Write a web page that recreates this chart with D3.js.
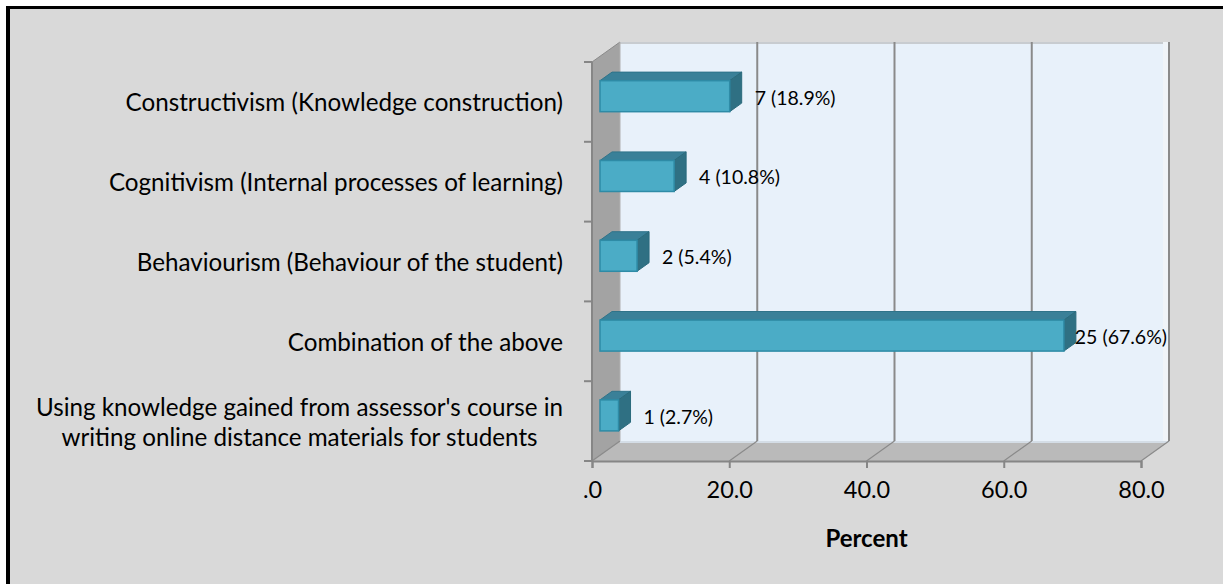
<!DOCTYPE html>
<html>
<head>
<meta charset="utf-8">
<script src="https://cdn.jsdelivr.net/npm/d3@7"></script>
<style>
body{margin:0;background:#fff;}
svg{display:block;}
text{font-family:Lato,"Open Sans",sans-serif;fill:#000;}
</style>
</head>
<body>
<svg></svg>
<script>
var categories = [
  "Constructivism (Knowledge construction)",
  "Cognitivism (Internal processes of learning)",
  "Behaviourism (Behaviour of the student)",
  "Combination of the above",
  "Using knowledge gained from assessor's course in|writing online distance materials for students"
];
var counts = [7, 4, 2, 25, 1];
var percents = [18.9, 10.8, 5.4, 67.6, 2.7];
var xTicks = [0, 20, 40, 60, 80];

var width = 1223, height = 584;
var svg = d3.select("svg").attr("width", width).attr("height", height);

// frame: black left/top edge, gray panel
svg.append("rect").attr("x", 6).attr("y", 6).attr("width", width).attr("height", height).attr("fill", "#000");
svg.append("rect").attr("x", 10).attr("y", 9).attr("width", width).attr("height", height).attr("fill", "#d9d9d9");

// 3d depth of the plot box
var dx = 28, dy = -20;
var x = d3.scaleLinear().domain([0, 80]).range([592, 1141]);
var y = d3.scaleBand().domain(categories).range([62, 461]);
var top0 = y.range()[0], bot0 = y.range()[1];

// left wall
svg.append("polygon")
  .attr("points", [[592, top0], [592 + dx, top0 + dy], [592 + dx, bot0 + dy], [592, bot0]].join(" "))
  .attr("fill", "#a3a3a3");
// back wall
svg.append("rect")
  .attr("x", x(0) + dx).attr("y", top0 + dy)
  .attr("width", x(80) - x(0)).attr("height", bot0 - top0)
  .attr("fill", "#e8f1fa");
svg.append("line").attr("x1", x(0) + dx).attr("x2", x(80) + dx)
  .attr("y1", top0 + dy + 1).attr("y2", top0 + dy + 1).attr("stroke", "#c8ccd0").attr("stroke-width", 2);
svg.append("rect").attr("x", x(80) + dx - 6).attr("y", top0 + dy).attr("width", 5).attr("height", bot0 - top0)
  .attr("fill", "#f0f4f8");
// floor
svg.append("polygon")
  .attr("points", [[x(0), bot0], [x(80), bot0], [x(80) + dx, bot0 + dy], [x(0) + dx, bot0 + dy]].join(" "))
  .attr("fill", "#bababa");
svg.append("line").attr("x1", x(0) + dx).attr("x2", x(80) + dx)
  .attr("y1", bot0 + dy + 1).attr("y2", bot0 + dy + 1).attr("stroke", "#d4dde6").attr("stroke-width", 2);

// gridlines on back wall and floor
var grid = svg.append("g").attr("stroke", "#8a8a8a").attr("stroke-width", 2);
xTicks.forEach(function(t) {
  if (t > 0) {
    grid.append("line").attr("x1", x(t) + dx).attr("x2", x(t) + dx)
      .attr("y1", top0 + dy).attr("y2", bot0 + dy);
  }
  grid.append("line").attr("x1", x(t)).attr("y1", bot0)
    .attr("x2", x(t) + dx).attr("y2", bot0 + dy).attr("stroke-width", 1.2);
});
grid.append("line").attr("x1", 592).attr("y1", top0).attr("x2", 592 + dx).attr("y2", top0 + dy).attr("stroke-width", 1);
grid.append("line").attr("x1", 592 + dx).attr("y1", top0 + dy).attr("x2", 592 + dx).attr("y2", bot0 + dy).attr("stroke-width", 1).attr("stroke", "#b0b0b0");

// x axis (front floor edge)
var xAxis = svg.append("g").attr("transform", "translate(0," + bot0 + ")")
  .call(d3.axisBottom(x).tickValues(xTicks).tickSize(7).tickPadding(13)
    .tickFormat(function(d) { return d === 0 ? ".0" : d3.format(".1f")(d); }));
xAxis.selectAll("path,line").attr("stroke", "#868686").attr("stroke-width", 2);
xAxis.selectAll("text").attr("font-size", 23.5).attr("font-family", "Lato");

// y axis (category boundaries)
var yAxis = svg.append("g").attr("stroke", "#868686").attr("stroke-width", 2);
yAxis.append("line").attr("x1", 592).attr("x2", 592).attr("y1", top0).attr("y2", bot0);
categories.forEach(function(c, i) {
  yAxis.append("line").attr("x1", 584).attr("x2", 592).attr("y1", y(c)).attr("y2", y(c));
});
yAxis.append("line").attr("x1", 584).attr("x2", 592).attr("y1", bot0).attr("y2", bot0);

// category labels (wrapped labels are centred within their block)
categories.forEach(function(c) {
  var lines = c.split("|");
  var cy = y(c) + y.bandwidth() / 2;
  var texts = lines.map(function(l, j) {
    return svg.append("text").attr("y", cy + (j - (lines.length - 1) / 2) * 30)
      .attr("dominant-baseline", "central").attr("font-size", 24.2).text(l);
  });
  if (texts.length === 1) {
    texts[0].attr("x", 563).attr("text-anchor", "end");
  } else {
    var maxW = d3.max(texts, function(t) { return t.node().getComputedTextLength(); });
    texts.forEach(function(t) { t.attr("x", 563 - maxW / 2).attr("text-anchor", "middle"); });
  }
});

// bars
var f0 = 8 / 28, f1 = 20 / 28, barH = 31;
var ox = dx * f0, oy = dy * f0, bdx = dx * (f1 - f0), bdy = dy * (f1 - f0);
var bars = svg.append("g");
categories.forEach(function(c, i) {
  var v = percents[i];
  var xa = x(0) + ox, xb = x(v) + ox;
  var cy = y(c) + y.bandwidth() / 2 + oy;
  var t = cy - barH / 2, b = cy + barH / 2;
  bars.append("polygon").attr("points", [[xa, t], [xb, t], [xb + bdx, t + bdy], [xa + bdx, t + bdy]].join(" "))
    .attr("fill", "#3a8098").attr("stroke", "#2f7389").attr("stroke-width", 1);
  bars.append("polygon").attr("points", [[xb, t], [xb + bdx, t + bdy], [xb + bdx, b + bdy], [xb, b]].join(" "))
    .attr("fill", "#2f7083").attr("stroke", "#2a6a7c").attr("stroke-width", 1);
  bars.append("rect").attr("x", xa).attr("y", t).attr("width", xb - xa).attr("height", barH)
    .attr("fill", "#4bacc6").attr("stroke", "#2e8ba6").attr("stroke-width", 1.5);
  var lab = svg.append("text").attr("y", cy + 1).attr("dominant-baseline", "central")
    .attr("font-size", 19.5).text(counts[i] + " (" + v + "%)");
  var w = lab.node().getComputedTextLength();
  var lx = Math.min(xb + bdx + 13, x(80) + dx - 2 - w);
  lab.attr("x", lx);
});

// axis title
svg.append("text").attr("x", x(40)).attr("y", 537).attr("text-anchor", "middle")
  .attr("dominant-baseline", "central").attr("font-size", 24).attr("font-weight", "bold").text("Percent");
</script>
</body>
</html>
